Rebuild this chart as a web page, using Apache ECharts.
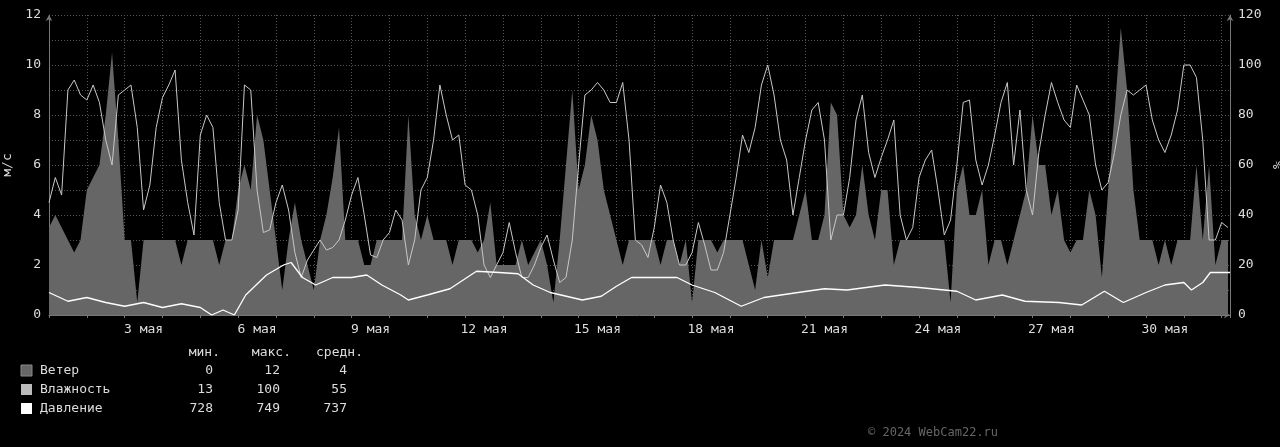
<!DOCTYPE html>
<html>
<head>
<meta charset="utf-8">
<script src="https://cdn.jsdelivr.net/npm/echarts@6/dist/echarts.min.js"></script>
<style>html,body{margin:0;background:#000}#main{width:1280px;height:447px}</style>
</head>
<body>
<div id="main"></div>
<script>
// ветер, м/с, каждые 4 часа, с 1 мая
var wind = [
  3.5,4,3.5,3,2.5,3,  5,5.5,6,8,10.5,7,  3,3,0.5,3,3,3,  3,3,3,2,3,3,
  3,3,3,2,3,3,  5,6,5,8,7,5,  3,1,3,4.5,3,2,  1,3,4,5.5,7.5,3,
  3,3,2,2,3,3,  3,3,3,8,4,3,  4,3,3,3,2,3,  3,3,2.5,3,4.5,2,
  2,2,2,3,2,2.5,  3,2,0.5,3,6,9,  5,6,8,7,5,4,  3,2,3,3,3,3,
  3,2,3,3,2,3,  0.5,3,3,3,2.5,3,  3,3,3,2,1,3,  1.5,3,3,3,3,4,
  5,3,3,4,8.5,8,  4,3.5,4,6,4,3,  5,5,2,3,3,3,  3,3,3,3,3,0.5,
  5,6,4,4,5,2,  3,3,2,3,4,5,  8,6,6,4,5,3,  2.5,3,3,5,4,1.5,
  5,8,11.5,9,5,3,  3,3,2,3,2,3,  3,3,6,3,6,2,  3,3
];
// влажность, %
var humidity = [
  45,55,48,90,94,88,  86,92,85,70,60,88,  90,92,75,42,52,75,  87,92,98,62,45,32,
  72,80,75,45,30,30,  42,92,90,50,33,34,  45,52,42,25,15,22,  26,30,26,27,30,38,
  48,55,40,24,23,30,  33,42,38,20,30,50,  55,70,92,80,70,72,  52,50,40,20,15,20,
  25,37,25,15,15,20,  27,32,22,13,15,30,  60,88,90,93,90,85,  85,93,70,30,28,23,
  35,52,45,30,20,20,  25,37,28,18,18,25,  40,55,72,65,75,92,  100,88,70,62,40,55,
  70,82,85,70,30,40,  40,55,78,88,65,55,  63,70,78,40,30,35,  55,62,66,50,32,38,
  60,85,86,62,52,60,  72,85,93,60,82,50,  40,65,80,93,85,78,  75,92,86,80,60,50,
  53,65,80,90,88,90,  92,78,70,65,72,82,  100,100,95,70,30,30,  37,35
];
// давление, мм рт. ст.
var pressureDays = [0,0.5,1,1.5,2,2.5,3,3.5,4,4.3,4.6,4.9,5.2,5.75,6.2,6.4,6.7,7.05,7.5,8,8.4,8.8,9.3,9.5,10,
  10.6,11.3,11.9,12.4,12.8,13.25,14.1,14.6,15,15.4,16.6,17,17.6,18.3,18.9,19.8,20.5,21.1,
  22.1,23,24,24.5,25.2,25.8,26.7,27.3,27.9,28.4,29,29.5,30,30.2,30.5,30.7,31,31.22];
var pressureVals = [737,733.5,735,733,731.5,733,731,732.5,731,728,730,728,736,744,748,749,743,740,743,743,744,740,736,734,736,
  738.5,745.5,745,744.5,740,737,734,735.5,739.5,743,743,740,737,731.5,735,737,738.5,738,
  740,739,737.5,734,736,733.5,733,732,737.5,733,737,740,741,738,741,745,745,745];
var dayTicks = [3,6,9,12,15,18,21,24,27,30];
var legendNames = ['Ветер', 'Влажность', 'Давление'];
var legendColors = ['#666', '#bbb', '#fff'];
var statMin = [0, 13, 728];
var statMax = [12, 100, 749];
var statAvg = [4, 55, 737];

var step = 1 / 6;
var windData = wind.map(function (v, i) { return [i * step, v]; });
var humData = humidity.map(function (v, i) { return [i * step, v]; });
var presData = pressureDays.map(function (d, i) { return [d, pressureVals[i]]; });

var mono = 'DejaVu Sans Mono';
var font = '13px ' + mono;
var myChart = echarts.init(document.getElementById('main'));
var gridLine = { show: true, lineStyle: { color: '#555', type: [1, 2], width: 1 } };

// легенда с таблицей
var graphics = [
  { type: 'text', x: 220, y: 353, style: { text: 'мин.', fill: '#ddd', font: font, align: 'right', verticalAlign: 'middle' } },
  { type: 'text', x: 291, y: 353, style: { text: 'макс.', fill: '#ddd', font: font, align: 'right', verticalAlign: 'middle' } },
  { type: 'text', x: 363, y: 353, style: { text: 'средн.', fill: '#ddd', font: font, align: 'right', verticalAlign: 'middle' } },
  { type: 'text', x: 868, y: 433, style: { text: '© 2024 WebCam22.ru', fill: '#666', font: '12px ' + mono, verticalAlign: 'middle' } }
];
legendNames.forEach(function (n, i) {
  var y = 371 + i * 19;
  graphics.push({ type: 'rect', shape: { x: 21, y: y - 6, width: 11, height: 11 }, style: { fill: legendColors[i], stroke: i === 0 ? '#888' : null } });
  graphics.push({ type: 'text', x: 40, y: y, style: { text: n, fill: '#ddd', font: font, verticalAlign: 'middle' } });
  graphics.push({ type: 'text', x: 213, y: y, style: { text: String(statMin[i]), fill: '#ddd', font: font, align: 'right', verticalAlign: 'middle' } });
  graphics.push({ type: 'text', x: 280, y: y, style: { text: String(statMax[i]), fill: '#ddd', font: font, align: 'right', verticalAlign: 'middle' } });
  graphics.push({ type: 'text', x: 347, y: y, style: { text: String(statAvg[i]), fill: '#ddd', font: font, align: 'right', verticalAlign: 'middle' } });
});

var option = {
  backgroundColor: '#000',
  animation: false,
  textStyle: { fontFamily: mono },
  grid: { left: 49, right: 50, top: 15, bottom: 132, outerBoundsMode: 'none', containLabel: false },
  xAxis: {
    type: 'value', min: 0, max: 31.22, interval: 1,
    axisLine: { show: true, lineStyle: { color: '#777' }, symbol: ['none', 'arrow'], symbolSize: [5, 6] },
    axisTick: { show: true, length: 3, lineStyle: { color: '#777' } },
    axisLabel: {
      color: '#ddd', fontSize: 13, fontFamily: mono, margin: 8,
      customValues: dayTicks.map(function (d) { return d - 0.5; }),
      formatter: function (v) { return Math.round(v + 0.5) + ' мая'; }
    },
    splitLine: gridLine
  },
  yAxis: [
    {
      type: 'value', min: 0, max: 12, interval: 1,
      name: 'м/с', nameLocation: 'middle', nameGap: 35, nameRotate: 90,
      nameTextStyle: { color: '#ddd', fontSize: 13, fontFamily: mono },
      axisLine: { show: true, lineStyle: { color: '#777' }, symbol: ['none', 'arrow'], symbolSize: [5, 6] },
      axisTick: { show: false },
      axisLabel: { color: '#ddd', fontSize: 13, fontFamily: mono, margin: 8,
        formatter: function (v) { return v % 2 === 0 ? v : ''; } },
      splitLine: gridLine
    },
    {
      type: 'value', min: 0, max: 120, interval: 10,
      name: '%', nameLocation: 'middle', nameGap: 36, nameRotate: 90,
      nameTextStyle: { color: '#ddd', fontSize: 13, fontFamily: mono },
      axisLine: { show: true, lineStyle: { color: '#777' }, symbol: ['none', 'arrow'], symbolSize: [5, 6] },
      axisTick: { show: false },
      axisLabel: { color: '#ddd', fontSize: 13, fontFamily: mono, margin: 8,
        formatter: function (v) { return v % 20 === 0 ? v : ''; } },
      splitLine: { show: false }
    },
    { type: 'value', min: 728, max: 848, show: false }
  ],
  series: [
    {
      name: 'Ветер', type: 'line', yAxisIndex: 0, data: windData,
      showSymbol: false, lineStyle: { width: 0 },
      areaStyle: { color: '#666', opacity: 1 }, itemStyle: { color: '#666' }
    },
    {
      name: 'Влажность', type: 'line', yAxisIndex: 1, data: humData,
      showSymbol: false, lineStyle: { width: 1, color: '#c8c8c8' }
    },
    {
      name: 'Давление', type: 'line', yAxisIndex: 2, data: presData,
      showSymbol: false, lineStyle: { width: 1.3, color: '#fff' }
    }
  ],
  graphic: graphics
};

myChart.setOption(option);
</script>
</body>
</html>
